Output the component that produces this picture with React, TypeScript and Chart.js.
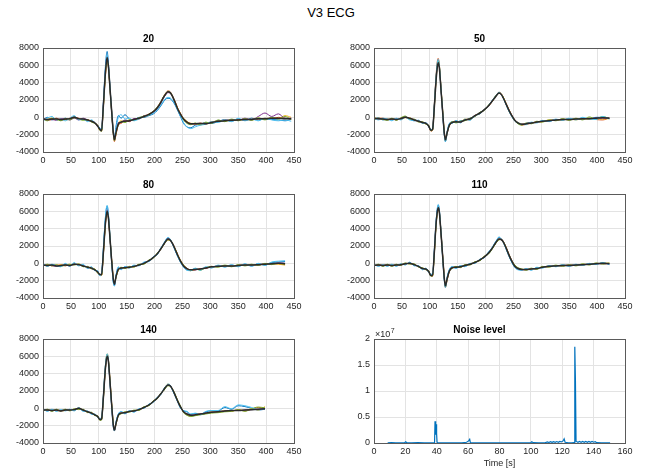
import React, { useEffect, useRef } from "react";
import { Chart, registerables } from "chart.js";
Chart.register(...registerables);

// ---------- data ----------
const ecgX = [0,8,16,24,32,40,48,56,64,72,80,87,93,98,102,105,108,111,113,115,117,120,123,126,128,131,135,140,147,155,163,172,181,190,198,205,211,216,220,224,228,232,237,242,247,252,258,265,273,282,292,302,314,326,338,350,362,374,386,398,410,422,434,445];
const yTicksEcg = [-4000, -2000, 0, 2000, 4000, 6000, 8000];
const xTicksEcg = [0, 50, 100, 150, 200, 250, 300, 350, 400, 450];

const mean20 = [-200,-250,-200,-200,-250,-200,-150,0,-150,-200,-300,-450,-650,-1000,-1400,-1550,1100,4300,6000,6900,6100,3500,800,-1700,-2600,-1700,-800,-550,-450,-400,-250,-100,100,350,650,1100,1700,2300,2700,2950,2850,2450,1700,900,300,-200,-550,-750,-750,-700,-750,-600,-450,-400,-350,-300,-250,-250,-150,-150,-100,-100,-150,-150];
const blue20 = [-300,0,-300,-150,-350,-100,-250,100,-250,-150,-400,-350,-700,-900,-1300,-1500,1500,5000,6800,7600,6500,3500,600,-1800,-2500,-1000,200,-100,300,-200,-300,0,0,200,400,800,1300,1800,2100,2200,2150,1900,1400,700,0,-700,-1100,-1200,-900,-800,-600,-700,-500,-250,-450,-200,-350,-100,-300,-200,-250,-300,-400,-200];
const orange20 = [-150,-350,-250,-100,-300,-250,-100,-50,-100,-250,-250,-500,-600,-1000,-1400,-1600,900,4000,5600,6500,5900,3300,700,-1900,-2800,-2000,-900,-700,-400,-500,-200,-200,200,300,700,1200,1800,2400,2800,3050,2950,2500,1800,1000,400,-200,-500,-700,-800,-650,-800,-500,-500,-300,-400,-250,-300,-200,-200,-100,-150,0,-100,-200];
const yellow20 = [-250,-200,-100,-300,-200,-300,-200,50,-200,-150,-350,-400,-700,-900,-1500,-1500,1000,4100,5700,6600,6000,3500,900,-1500,-2500,-1700,-700,-400,-550,-300,-300,-50,50,400,700,1100,1700,2300,2700,2900,2850,2450,1750,1000,350,-100,-450,-700,-700,-800,-700,-550,-400,-450,-300,-350,-200,-300,-100,-200,-50,-150,200,0];
const purple20 = [-100,-300,-250,-350,-150,-200,-300,-100,-300,-100,-300,-500,-600,-1100,-1300,-1400,1300,4400,6200,7000,6200,3600,800,-1700,-2600,-1500,-600,-600,-300,-450,-150,-150,150,300,600,1000,1600,2200,2600,2850,2800,2400,1650,850,250,-250,-600,-800,-700,-750,-650,-650,-350,-400,-250,-350,-100,-300,100,500,100,400,-100,-100];
const green20 = [-200,-400,-100,-250,-400,-150,-300,-50,-200,-350,-300,-550,-700,-950,-1500,-1600,1000,4200,5900,6700,6000,3400,700,-1800,-2700,-1800,-900,-500,-600,-300,-350,-50,150,250,700,1200,1750,2350,2750,3000,2900,2450,1650,850,250,-300,-700,-850,-650,-900,-550,-700,-300,-500,-200,-400,-150,-350,-50,-300,0,-200,100,-250];
const lightblue20 = [-400,-100,100,-300,-200,-400,-100,200,-300,-200,-500,-300,-600,-1000,-1200,-1400,1200,4600,6400,7200,6400,3700,900,-1500,-2300,-1300,0,300,-200,-100,-400,-200,100,300,500,900,1400,1900,2200,2300,2250,2000,1500,800,100,-600,-1100,-1300,-1100,-900,-800,-500,-600,-300,-500,-100,-400,-200,-400,-100,-300,-400,-300,-450];

const mean50 = [-100,-150,-200,-250,-200,-250,-150,0,-100,-300,-450,-600,-700,-1000,-1500,-1400,1000,4000,5500,6300,5800,3300,700,-1800,-2600,-1800,-900,-600,-500,-550,-300,-200,200,500,900,1300,1800,2200,2550,2800,2650,2200,1500,800,200,-300,-650,-800,-750,-650,-550,-450,-400,-300,-250,-250,-200,-150,-150,-100,-50,-100];
const blue50 = [-200,-50,-300,-200,-300,-150,-200,100,-200,-400,-350,-700,-650,-1100,-1400,-1300,1200,4300,5900,6600,6000,3400,600,-2000,-2800,-1900,-800,-500,-600,-400,-350,-100,100,550,850,1350,1850,2300,2600,2850,2700,2250,1450,700,100,-400,-700,-850,-700,-600,-600,-400,-450,-250,-300,-150,-250,-100,-200,0,0,-100];
const orange50 = [-250,-100,-100,-300,-150,-300,-100,50,-150,-250,-500,-550,-750,-950,-1600,-1500,1400,4600,6200,6800,6200,3600,800,-1700,-2700,-1900,-1000,-650,-400,-600,-250,-300,250,400,950,1250,1750,2250,2600,2900,2750,2300,1600,900,250,-250,-600,-900,-800,-700,-500,-500,-350,-350,-200,-300,-150,-200,-100,-250,-300,-50];
const yellow50 = [0,-200,-250,-200,-250,-200,-250,-50,-50,-350,-400,-650,-700,-1050,-1450,-1450,900,3900,5600,6500,6100,3500,900,-1600,-2500,-1700,-850,-550,-450,-500,-200,-250,150,450,900,1300,1750,2200,2550,2750,2700,2300,1550,850,200,-300,-600,-750,-800,-600,-600,-500,-300,-350,-300,-200,-300,-100,-250,-150,-200,-150];
const purple50 = [-150,-200,-150,-250,-200,-200,-200,0,-150,-250,-450,-600,-650,-1000,-1500,-1350,1100,4100,5700,6400,5900,3300,600,-1900,-2600,-1700,-900,-600,-450,-550,-300,-150,150,500,850,1300,1800,2250,2550,2800,2650,2200,1500,800,200,-300,-650,-800,-700,-650,-550,-450,-400,-300,-250,-250,-200,-200,-100,-100,-100,-100];
const green50 = [-300,-100,-250,-350,-100,-350,-50,150,-250,-200,-550,-500,-800,-900,-1550,-1450,1100,4200,5800,6500,6000,3400,800,-1800,-2700,-1800,-950,-500,-650,-450,-400,-100,100,600,800,1400,1800,2300,2650,2850,2700,2250,1500,750,150,-350,-750,-900,-650,-750,-450,-550,-300,-400,-150,-350,-100,-300,50,-200,100,-150];
const lightblue50 = [-100,-300,-100,-200,-400,-100,-300,0,-300,-350,-350,-700,-600,-1050,-1400,-1400,1300,4400,6000,6700,6100,3500,700,-1900,-2800,-1700,-700,-700,-350,-650,-200,-350,200,400,950,1300,1850,2250,2600,2900,2700,2200,1450,750,150,-300,-600,-800,-850,-550,-650,-350,-500,-200,-350,-100,-300,0,-200,-250,100,-200];

const mean80 = [-200,-250,-200,-300,-250,-200,-250,-100,-150,-300,-450,-550,-750,-1000,-1300,-1300,1000,3900,5300,6000,5400,3000,400,-1800,-2400,-1500,-700,-550,-500,-450,-350,-200,0,300,700,1100,1650,2150,2550,2800,2700,2300,1600,850,200,-300,-600,-750,-700,-650,-550,-400,-350,-300,-300,-250,-200,-200,-150,-100,-50,0,-50];
const blue80 = [-100,-300,-150,-250,-350,-100,-300,0,-250,-200,-550,-450,-800,-900,-1400,-1200,1400,4500,6000,6600,5800,3200,300,-2100,-2600,-1400,-500,-700,-400,-500,-250,-250,100,250,750,1050,1700,2200,2650,2950,2750,2250,1500,750,100,-400,-750,-800,-600,-750,-450,-500,-250,-400,-200,-350,-100,-300,-50,-200,100,150,200];
const orange80 = [-300,-150,-300,-200,-200,-300,-150,-150,-100,-350,-400,-600,-700,-1100,-1350,-1400,800,3700,5200,5800,5300,2900,500,-1700,-2300,-1600,-800,-500,-550,-400,-400,-150,-50,350,650,1150,1600,2100,2500,2700,2650,2350,1700,950,300,-200,-550,-800,-750,-600,-600,-350,-400,-250,-350,-200,-250,-150,-200,-50,-100,-50,-150];
const yellow80 = [-250,-200,-250,-300,-150,-250,-200,-50,-200,-250,-500,-500,-700,-1050,-1250,-1350,900,3800,5400,6100,5500,3100,500,-1700,-2300,-1500,-750,-500,-500,-500,-300,-200,0,300,700,1100,1650,2150,2550,2750,2700,2300,1650,900,250,-250,-650,-850,-700,-700,-500,-450,-300,-350,-250,-300,-150,-250,-100,-150,0,-100,-200];
const purple80 = [-150,-200,-250,-350,-300,-150,-300,-100,-150,-300,-400,-600,-800,-950,-1350,-1250,1100,4000,5500,6200,5500,3000,300,-1900,-2500,-1500,-650,-600,-450,-450,-350,-200,50,300,700,1100,1650,2150,2600,2850,2700,2300,1550,800,150,-350,-650,-750,-750,-650,-550,-400,-350,-300,-300,-250,-200,-200,-150,-50,-100,50,0];
const green80 = [-350,-100,-300,-150,-350,-200,-100,-200,-50,-400,-350,-650,-650,-1150,-1300,-1350,900,3800,5300,5900,5400,3000,400,-1800,-2400,-1600,-800,-450,-600,-350,-450,-100,-100,400,600,1200,1600,2100,2450,2700,2650,2300,1650,900,250,-200,-600,-850,-650,-800,-500,-350,-450,-200,-400,-150,-300,-100,-250,0,-150,0,-100];
const lightblue80 = [0,-350,-100,-300,-400,0,-350,100,-300,-100,-600,-400,-850,-850,-1450,-1150,1500,4600,6100,6700,5900,3200,200,-2200,-2600,-1300,-400,-750,-350,-550,-200,-300,150,200,800,1000,1750,2250,2700,3000,2800,2250,1450,700,50,-450,-800,-850,-550,-800,-400,-550,-200,-450,-150,-400,-50,-350,0,-250,150,250,300];

const mean110 = [-250,-200,-250,-200,-250,-200,-150,-50,0,-150,-350,-600,-650,-950,-1400,-1400,1100,4300,5700,6400,6000,3600,900,-1700,-2600,-1800,-900,-500,-450,-400,-250,-100,100,400,750,1150,1650,2150,2550,2800,2750,2450,1750,950,250,-300,-600,-700,-700,-650,-600,-450,-350,-300,-250,-250,-200,-150,-100,-50,0,-50];
const blue110 = [-150,-300,-200,-300,-150,-300,-100,-150,100,-250,-300,-700,-600,-1000,-1300,-1300,1300,4500,6000,6700,6200,3700,700,-1900,-2700,-1700,-800,-400,-550,-300,-350,-50,50,450,700,1250,1700,2250,2650,3000,2800,2400,1650,850,150,-400,-700,-750,-650,-750,-500,-500,-300,-350,-200,-300,-150,-200,-50,-100,50,-100];
const orange110 = [-300,-150,-300,-150,-300,-150,-200,0,-50,-100,-400,-550,-700,-900,-1450,-1500,1000,4200,5700,6500,6100,3800,1100,-1500,-2800,-2000,-1000,-550,-400,-450,-200,-150,150,350,800,1100,1600,2100,2500,2750,2800,2500,1850,1050,350,-200,-550,-700,-750,-600,-650,-400,-400,-250,-300,-200,-250,-100,-150,0,-50,0];
const yellow110 = [-200,-250,-150,-250,-200,-250,-100,-100,50,-200,-300,-650,-600,-1000,-1350,-1400,1000,4200,5600,6300,5900,3500,900,-1600,-2500,-1700,-850,-450,-500,-350,-300,-50,100,350,800,1200,1650,2200,2550,2850,2700,2400,1700,900,250,-250,-650,-700,-700,-700,-550,-450,-300,-350,-200,-250,-150,-200,-50,-100,50,0];
const purple110 = [-250,-200,-200,-200,-250,-150,-200,-50,0,-150,-400,-600,-700,-950,-1400,-1350,1200,4300,5800,6400,6000,3600,900,-1700,-2600,-1800,-900,-500,-450,-400,-250,-100,100,400,700,1150,1650,2150,2600,2800,2750,2450,1750,950,300,-300,-600,-750,-700,-650,-600,-450,-350,-300,-250,-200,-200,-150,-100,-50,-50,-50];
const green110 = [-350,-100,-350,-100,-350,-100,-250,50,-100,-50,-450,-500,-750,-850,-1500,-1450,900,4100,5600,6400,6000,3700,1000,-1600,-2700,-1900,-950,-600,-350,-500,-150,-200,200,300,850,1050,1550,2050,2450,2700,2750,2500,1800,1000,300,-150,-500,-650,-800,-550,-700,-350,-450,-200,-350,-150,-300,-50,-200,50,-100,50];
const lightblue110 = [-100,-350,-150,-350,-100,-350,-50,-200,150,-300,-250,-750,-550,-1050,-1250,-1250,1400,4600,6100,6800,6300,3800,800,-1800,-2800,-1600,-700,-350,-600,-250,-400,0,0,500,650,1300,1750,2300,2700,3050,2850,2400,1600,800,100,-450,-750,-800,-600,-800,-450,-550,-250,-400,-150,-350,-100,-250,0,-150,100,-150];

const mean140 = [-200,-200,-250,-200,-300,-200,-200,-150,0,-200,-400,-550,-750,-950,-1300,-1200,1000,3900,5300,6000,5600,3200,500,-1900,-2500,-1700,-800,-550,-500,-350,-300,-150,100,400,800,1200,1650,2100,2450,2700,2600,2200,1500,750,100,-400,-650,-800,-750,-650,-550,-450,-400,-300,-250,-250,-200,-150,-100,-50];
const blue140 = [-100,-300,-150,-300,-200,-250,-150,-250,50,-300,-350,-650,-700,-1000,-1200,-1100,1200,4200,5600,6200,5700,3100,400,-2000,-2600,-1600,-700,-400,-600,-300,-400,-100,50,450,750,1250,1600,2150,2500,2750,2650,2150,1450,700,0,-300,-400,-700,-600,-700,-400,-300,-300,100,-100,300,200,0,-200,-100];
const orange140 = [-300,-150,-300,-150,-250,-150,-250,-100,-100,-150,-450,-500,-800,-900,-1350,-1300,900,3800,5400,6100,5700,3400,700,-1700,-2600,-1800,-850,-600,-450,-400,-250,-200,150,350,850,1150,1700,2050,2400,2650,2600,2250,1550,800,150,-450,-750,-900,-800,-700,-600,-500,-450,-350,-300,-200,-300,-100,100,0];
const yellow140 = [-250,-250,-200,-250,-300,-250,-150,-200,50,-250,-350,-600,-700,-1000,-1250,-1200,1200,4100,5700,6300,5800,3300,500,-1800,-2400,-1600,-800,-500,-500,-350,-300,-150,100,400,800,1200,1650,2150,2550,2800,2650,2200,1500,750,100,-400,-700,-850,-800,-600,-600,-400,-450,-250,-350,-150,-250,-50,-200,200];
const purple140 = [-150,-200,-250,-200,-300,-200,-200,-150,0,-200,-400,-550,-750,-950,-1300,-1250,1000,3900,5300,6000,5500,3100,400,-2000,-2500,-1700,-750,-550,-500,-350,-300,-150,100,400,800,1200,1650,2100,2450,2700,2600,2200,1500,750,100,-400,-650,-800,-750,-650,-550,-450,-400,-300,-250,-250,-200,-150,-100,-50];
const green140 = [-350,-100,-350,-100,-300,-100,-300,-50,-150,-100,-500,-450,-850,-850,-1400,-1350,800,3700,5300,6000,5600,3300,600,-1700,-2500,-1800,-900,-650,-400,-450,-200,-250,200,300,900,1100,1750,2000,2350,2600,2550,2250,1600,850,200,-500,-800,-950,-850,-750,-650,-550,-500,-400,-350,-150,-350,-50,150,50];
const lightblue140 = [-50,-350,-100,-350,-150,-300,-100,-300,100,-350,-300,-700,-650,-1050,-1150,-1050,1300,4300,5700,6300,5800,3000,300,-2100,-2600,-1500,-650,-350,-650,-250,-450,-50,0,500,700,1300,1550,2200,2550,2800,2700,2100,1400,650,-50,-250,-350,-650,-550,-750,-350,-250,-250,200,-50,400,300,100,-150,-50];

const noiseX = [8.7,11,14,17,19.5,20.2,21,24,28,32,36,38.6,38.9,39.1,39.3,39.5,39.7,39.9,40.2,40.6,44,48,52,56,59,60.3,61,61.4,64,68,72,76,80,84,88,92,96,100,100.6,101.5,105,109,110.5,111.5,112.5,113.5,114.5,115.5,116.5,117.5,118.5,119.5,120.5,121.2,121.8,124,126,127.6,128.0,128.4,128.8,129.3,130,131,132,133,134,135,136,137,138,139,140,141,142,145,148,150.5];
const noiseY = [4e4,6e4,3e4,5e4,6e4,2.2e5,5e4,4e4,6e4,3e4,5e4,9e4,4.2e6,1.6e6,4.1e6,2.1e6,3.6e6,1.8e6,1.5e5,3e4,5e4,2e4,4e4,3e4,1.5e5,4e5,7e5,1e5,3e4,5e4,2e4,4e4,3e4,5e4,2e4,4e4,3e4,5e4,2.5e5,6e4,4e4,5e4,2e5,1e5,2.5e5,1.2e5,2.6e5,1.4e5,2.8e5,1.5e5,3e5,2e5,4e5,8e5,1.5e5,5e4,4e4,1e5,1.85e7,1.2e7,3e5,2.5e5,1.5e5,3e5,1.5e5,3e5,1.5e5,3e5,1.5e5,3e5,1.5e5,3e5,1.5e5,2.5e5,6e4,4e4,5e4,3e4];
const yTicksNoise = [0, 5e6, 1e7, 1.5e7, 2e7];
const xTicksNoise = [0, 20, 40, 60, 80, 100, 120, 140, 160];

const figTitle = "V3 ECG";
const panelTitles = ["20", "50", "80", "110", "140"];
const noiseTitle = "Noise level";
const noiseXLabel = "Time [s]";

// ---------- styles ----------
const FONT = "'Liberation Sans', Arial, Helvetica, sans-serif";
const C = { blue: "#0072BD", orange: "#D95319", yellow: "#EDB120", purple: "#7E2F8E", green: "#77AC30", lightblue: "#4DBEEE", mean: "#2a2a2a" };
const GRID = "#e3e3e3";
const TICK_COLOR = "#262626";
const AXIS_COLOR = "#5a5a5a";
const YW = 40, TT = 15, XH = 16, RP = 12, PW = 251, PH = 104;
const COLS = [43, 374];
const ROWS = [48, 194, 339];

const boxPlugin = {
  id: "box",
  afterDraw(chart: any) {
    const { ctx, chartArea: a } = chart;
    ctx.save();
    ctx.strokeStyle = AXIS_COLOR;
    ctx.lineWidth = 1;
    ctx.strokeRect(Math.round(a.left) + 0.5, Math.round(a.top) + 0.5, Math.round(a.right - a.left), Math.round(a.bottom - a.top));
    ctx.restore();
  },
};

const expPlugin = {
  id: "exp",
  afterDraw(chart: any) {
    const { ctx, chartArea: a } = chart;
    ctx.save();
    ctx.fillStyle = TICK_COLOR;
    ctx.textBaseline = "alphabetic";
    ctx.font = `9px ${FONT}`;
    ctx.fillText("\u00d710", a.left + 1, a.top - 2);
    const w = ctx.measureText("\u00d710").width;
    ctx.font = `7px ${FONT}`;
    ctx.fillText("7", a.left + 1 + w + 0.5, a.top - 6);
    ctx.restore();
  },
};

function pts(xs: number[], ys: number[]) {
  return ys.map((y, i) => ({ x: xs[i], y }));
}

function baseOptions(title: string, xMin: number, xMax: number, xTicks: number[], yMin: number, yMax: number, yTicks: number[], yFmt: (v: number) => string, xh: number, xTitle?: string) {
  const tickFont = { size: 9, family: FONT };
  return {
    responsive: false,
    animation: false,
    devicePixelRatio: 1,
    layout: { padding: { left: 0, right: RP, top: 0, bottom: 0 } },
    plugins: {
      legend: { display: false },
      tooltip: { enabled: false },
      title: { display: true, text: title, color: "#000", font: { size: 10, weight: "bold", family: FONT, lineHeight: 1.2 }, padding: { top: 0, bottom: 3 } },
    },
    scales: {
      x: {
        type: "linear", min: xMin, max: xMax,
        afterBuildTicks: (s: any) => { s.ticks = xTicks.map((v) => ({ value: v })); },
        ticks: { font: tickFont, color: TICK_COLOR, padding: 3, maxRotation: 0, autoSkip: false, callback: (v: any) => String(v) },
        grid: { color: GRID, drawTicks: false },
        border: { display: false },
        title: xTitle ? { display: true, text: xTitle, color: TICK_COLOR, font: { size: 9, family: FONT }, padding: { top: 0, bottom: 0 } } : { display: false },
        afterFit: (s: any) => { s.height = xh; },
      },
      y: {
        type: "linear", min: yMin, max: yMax,
        afterBuildTicks: (s: any) => { s.ticks = yTicks.map((v) => ({ value: v })); },
        ticks: { font: tickFont, color: TICK_COLOR, padding: 4, autoSkip: false, callback: (v: any) => yFmt(Number(v)) },
        grid: { color: GRID, drawTicks: false },
        border: { display: false },
        afterFit: (s: any) => { s.width = YW; },
      },
    },
  };
}

function ecgConfig(title: string, mean: number[], traces: [number[], string][]) {
  // first dataset is drawn on top: mean first, then later MATLAB colours above earlier ones
  const ds = [
    { data: pts(ecgX, mean), borderColor: C.mean, borderWidth: 1.5 },
    ...traces.slice().reverse().map(([d, c]) => ({ data: pts(ecgX, d), borderColor: c, borderWidth: 1 })),
  ].map((d) => ({ ...d, pointRadius: 0, fill: false, cubicInterpolationMode: "monotone" }));
  return {
    type: "line",
    data: { datasets: ds },
    options: baseOptions(title, 0, 450, xTicksEcg, -4000, 8000, yTicksEcg, (v) => String(v), XH),
    plugins: [boxPlugin],
  };
}

function noiseConfig() {
  return {
    type: "line",
    data: { datasets: [{ data: pts(noiseX, noiseY), borderColor: C.blue, borderWidth: 1.2, pointRadius: 0, fill: false, tension: 0 }] },
    options: baseOptions(noiseTitle, 0, 160, xTicksNoise, 0, 2e7, yTicksNoise, (v) => String(v / 1e7), 26, noiseXLabel),
    plugins: [boxPlugin, expPlugin],
  };
}

function Panel({ col, row, xh, make }: { col: number; row: number; xh: number; make: () => any }) {
  const ref = useRef<HTMLCanvasElement>(null);
  const w = YW + PW + RP;
  const h = TT + PH + xh;
  useEffect(() => {
    const chart = new Chart(ref.current as HTMLCanvasElement, make());
    return () => chart.destroy();
  }, []);
  return (
    <canvas
      ref={ref}
      width={w}
      height={h}
      style={{ position: "absolute", left: COLS[col] - YW, top: ROWS[row] - TT, width: w, height: h }}
    />
  );
}

export default function App() {
  return (
    <div style={{ position: "fixed", left: 0, top: 0, width: 645, height: 472, background: "#fff", overflow: "hidden" }}>
      <div style={{ position: "absolute", left: 331, top: 4, transform: "translateX(-50%)", fontFamily: FONT, fontSize: 13, color: "#000", whiteSpace: "nowrap", lineHeight: "17px" }}>
        {figTitle}
      </div>
      <Panel col={0} row={0} xh={XH} make={() => ecgConfig(panelTitles[0], mean20, [[blue20, C.blue], [orange20, C.orange], [yellow20, C.yellow], [purple20, C.purple], [green20, C.green], [lightblue20, C.lightblue]])} />
      <Panel col={1} row={0} xh={XH} make={() => ecgConfig(panelTitles[1], mean50, [[blue50, C.blue], [orange50, C.orange], [yellow50, C.yellow], [purple50, C.purple], [green50, C.green], [lightblue50, C.lightblue]])} />
      <Panel col={0} row={1} xh={XH} make={() => ecgConfig(panelTitles[2], mean80, [[blue80, C.blue], [orange80, C.orange], [yellow80, C.yellow], [purple80, C.purple], [green80, C.green], [lightblue80, C.lightblue]])} />
      <Panel col={1} row={1} xh={XH} make={() => ecgConfig(panelTitles[3], mean110, [[blue110, C.blue], [orange110, C.orange], [yellow110, C.yellow], [purple110, C.purple], [green110, C.green], [lightblue110, C.lightblue]])} />
      <Panel col={0} row={2} xh={XH} make={() => ecgConfig(panelTitles[4], mean140, [[blue140, C.blue], [orange140, C.orange], [yellow140, C.yellow], [purple140, C.purple], [green140, C.green], [lightblue140, C.lightblue]])} />
      <Panel col={1} row={2} xh={26} make={noiseConfig} />
    </div>
  );
}
